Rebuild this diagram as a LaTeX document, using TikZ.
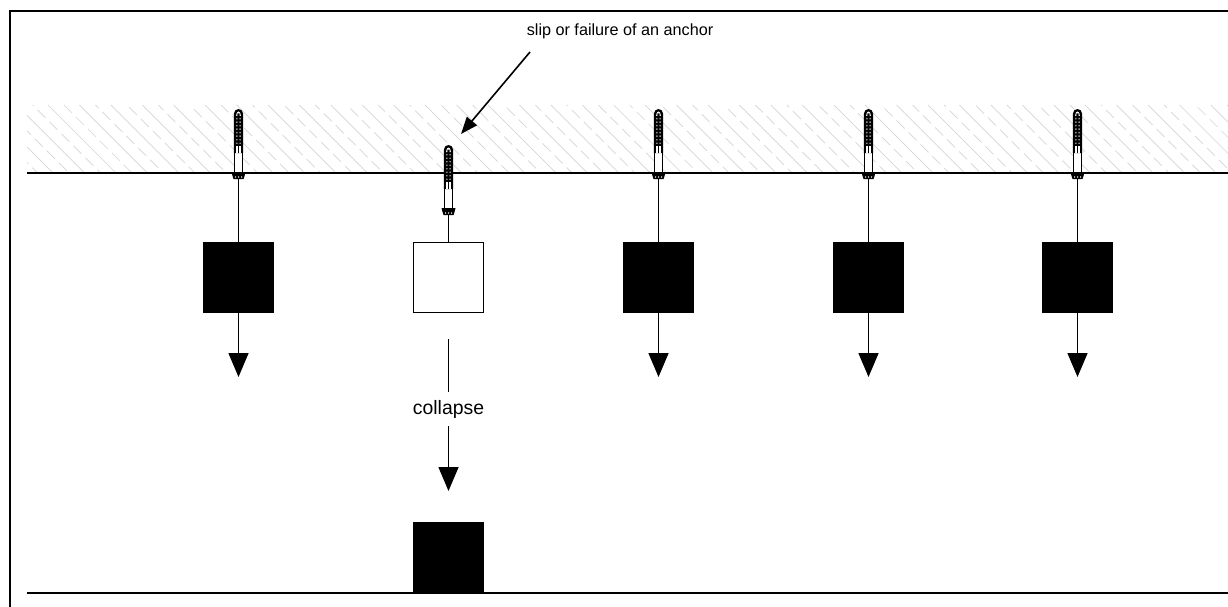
\documentclass[tikz,border=0pt]{standalone}
\usepackage{fontspec}
\setmainfont{Liberation Sans}
\usetikzlibrary{arrows.meta}
\tikzset{
  hatchlong/.style={draw=black!16,line width=0.7pt},
  hatchdash/.style={draw=black!16,line width=0.7pt,dash pattern=on 11.3pt off 5.6pt},
  edgeline/.style={draw=black,line width=2pt},
  conn/.style={draw=black,line width=1.6pt},
  loadarrow/.style={conn,-{Triangle[length=24pt,width=20pt]}},
  solidbox/.style={fill=black,minimum width=71pt,minimum height=71pt,inner sep=0pt},
  openbox/.style={draw=black,fill=white,minimum width=70pt,minimum height=70pt,inner sep=0pt,line width=1.6pt},
  lbl/.style={font=\fontsize{16.2pt}{18pt}\selectfont,inner sep=1pt},
  biglbl/.style={font=\fontsize{19.4pt}{21pt}\selectfont,inner sep=0pt,minimum height=34pt},
  pics/fixing/.style={code={
    % sleeve
    \draw[black,line width=1.5pt,fill=white] (-4,40) rectangle (4,64);
    % threaded part
    \fill[black] (-4.7,44) -- (-4.7,5) .. controls (-4.7,2) and (-2.5,0) .. (0,0) .. controls (2.5,0) and (4.7,2) .. (4.7,5) -- (4.7,44) -- cycle;
    \fill[white] (-2.4,7) .. controls (-2.4,4) and (-1.2,2.5) .. (0,2.5) .. controls (1.2,2.5) and (2.4,4) .. (2.4,7) -- (1.2,7) -- (1.2,4.5) -- (-1.2,4.5) -- (-1.2,7) -- cycle;
    \foreach \yy in {9,12.5,...,34} \fill[black!45] (-2.4,\yy) rectangle (-0.9,\yy+1.4) (0.9,\yy) rectangle (2.4,\yy+1.4);
    \fill[white] (-2.4,37) rectangle (-0.7,44) (0.7,37) rectangle (2.4,44);
    % nut
    \fill[black] (-7,63) -- (7,63) -- (6,67) -- (5,70) -- (-5,70) -- (-6,67) -- cycle;
    \fill[black!35] (-3.5,67) rectangle (-2.5,68.8) (-0.5,67) rectangle (0.5,68.8) (2.5,67) rectangle (3.5,68.8);
  }}
}
\begin{document}
\begin{tikzpicture}[x=1pt,y=-1pt]
\useasboundingbox (0,0) rectangle (1228,607);
\fill[white] (0,0) rectangle (1228,607);
% hatching
\begin{scope}
\clip (27,105) rectangle (1228,172.5);
\foreach \k in {-4,...,38} {
  \pgfmathsetmacro{\xa}{48+31.43*\k}
  \draw[hatchlong] (\xa,105) -- ++(70,70);
  \pgfmathsetmacro{\xb}{64+31.43*\k}
  \pgfmathsetmacro{\ph}{mod(\k*7,17)}
  \draw[hatchdash,dash phase=\ph pt] (\xb,105) -- ++(70,70);
}
\end{scope}
% frame and surfaces
\draw[edgeline] (9.5,607) -- (9.5,11) -- (1228,11);
\coordinate (ceilL) at (27,172.5);
\coordinate (ceilR) at (1228,172.5);
\coordinate (floorL) at (27,592.5);
\coordinate (floorR) at (1228,592.5);
\draw[edgeline] (ceilL) -- (ceilR);
\draw[edgeline] (floorL) -- (floorR);
% anchors
\pic at (238.5,109) {fixing};
\pic at (448.5,145) {fixing};
\pic at (658.5,109) {fixing};
\pic at (868.5,109) {fixing};
\pic at (1077.5,109) {fixing};
\coordinate (a1) at (238.5,179);
\coordinate (a2) at (448.5,215);
\coordinate (a3) at (658.5,179);
\coordinate (a4) at (868.5,179);
\coordinate (a5) at (1077.5,179);
% boxes
\node[solidbox] (b1) at (238.5,277.5) {};
\node[openbox] (b2) at (448.5,277.5) {};
\node[solidbox] (b3) at (658.5,277.5) {};
\node[solidbox] (b4) at (868.5,277.5) {};
\node[solidbox] (b5) at (1077.5,277.5) {};
\node[solidbox] (fallen) at (448.5,557) {};
% hangers
\foreach \i in {1,...,5} \draw[conn] (a\i) -- (b\i.north);
% load arrows
\coordinate (l1) at (238.5,377);
\coordinate (l3) at (658.5,377);
\coordinate (l4) at (868.5,377);
\coordinate (l5) at (1077.5,377);
\foreach \i in {1,3,4,5} \draw[loadarrow] (b\i.south) -- (l\i);
% collapse
\coordinate (c0) at (448.5,339);
\coordinate (c1) at (448.5,491);
\node[biglbl] (cl) at (448.5,409) {collapse};
\draw[conn] (c0) -- (cl.north);
\draw[loadarrow] (cl.south) -- (c1);
% annotation
\node[lbl] (note) at (620,31) {slip or failure of an anchor};
\coordinate (noteTip) at (461,134);
\coordinate (noteStart) at (530,52);
\draw[conn,-{Triangle[length=17pt,width=13pt]}] (noteStart) -- (noteTip);
\end{tikzpicture}
\end{document}
